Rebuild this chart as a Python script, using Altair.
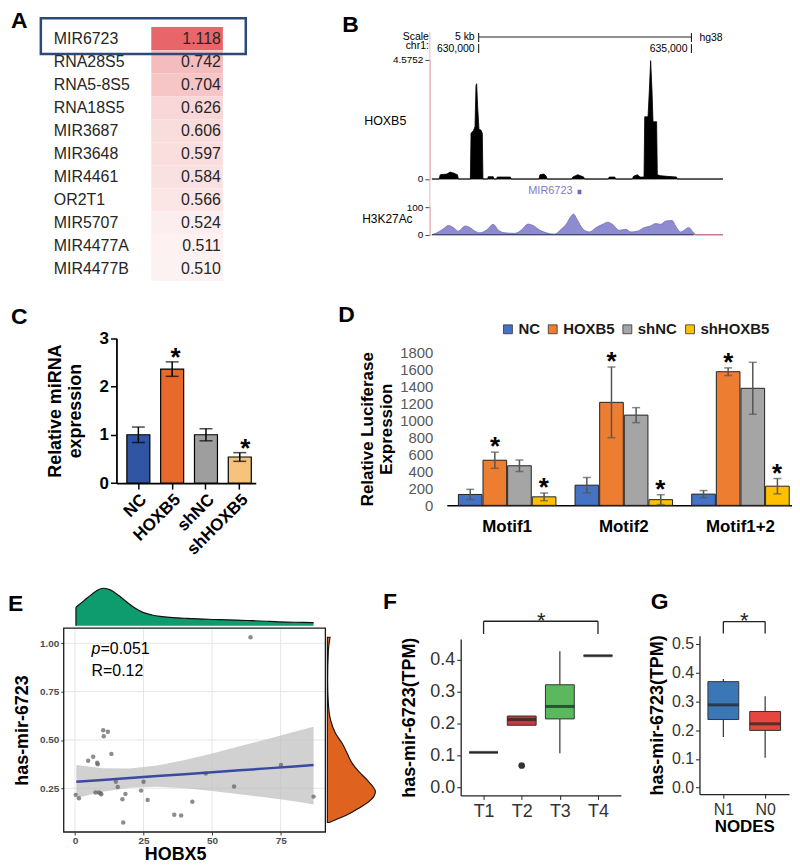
import altair as alt
import pandas as pd

W, H = 784, 848
FONT = "Liberation Sans"


def px(v):
    return v - 8


def py(v):
    return v - 8


# ---------------- data ----------------
# Panel A
a_names = ["MIR6723", "RNA28S5", "RNA5-8S5", "RNA18S5", "MIR3687", "MIR3648",
           "MIR4461", "OR2T1", "MIR5707", "MIR4477A", "MIR4477B"]
a_values = [1.118, 0.742, 0.704, 0.626, 0.606, 0.597, 0.584, 0.566, 0.524, 0.511, 0.510]

# Panel B (genome browser tracks)
b_hoxb5_pos = [628902, 629073, 629097, 629252, 629330, 629408, 629502, 629525, 629805, 629821,
               629875, 629914, 629938, 629953, 629977, 630008, 630054, 630086, 630101, 630210,
               630226, 630343, 630358, 630421, 630436, 630748, 630763, 631417, 631441, 631534,
               631589, 631604, 632188, 632212, 632329, 632469, 632484, 633045, 633068, 633201,
               633216, 633614, 633637, 633730, 633793, 633886, 633902, 633980, 634011, 634042,
               634073, 634097, 634182, 634198, 634276, 634431, 634649, 634665, 635740]
b_hoxb5_val = [0, 0, 0.165, 0.19, 0.267, 0.229, 0.165, 0, 0, 1.754,
               1.856, 2.008, 3.597, 3.66, 2.77, 1.906, 1.88, 1.754, 0, 0,
               0.089, 0.089, 0, 0, 0.076, 0.076, 0, 0, 0.165, 0.19,
               0.102, 0, 0, 0.076, 0.165, 0.076, 0, 0, 0.076, 0.076,
               0, 0, 0.102, 0.165, 0.076, 0.076, 2.39, 2.39, 3.406, 4.55,
               3.406, 2.2, 2.2, 0.165, 0.127, 0.102, 0.076, 0, 0]
b_h3k_pos = [628902, 629019, 629175, 629291, 629408, 629525, 629681, 629798, 629914, 630031,
             630187, 630343, 630459, 630615, 630849, 631005, 631160, 631277, 631433, 631589,
             631783, 631939, 632056, 632173, 632227, 632313, 632445, 632601, 632757, 632913,
             633030, 633146, 633302, 633458, 633575, 633730, 633886, 634042, 634159, 634276,
             634392, 634548, 634626, 634743, 634938, 635054, 635117, 635740]
b_h3k_val = [0, 7, 22, 34, 26, 13, 32, 26, 13, 7,
             17, 38, 17, 7, 5, 17, 39, 34, 17, 7,
             2, 20, 38, 68, 76, 56, 22, 10, 26, 38,
             46, 38, 16, 20, 10, 13, 26, 32, 41, 38,
             50, 52, 32, 10, 26, 7, 0, 0]
b_coords = [630000, 635000]
b_coord_labels = ["630,000", "635,000"]
b_scale_start, b_scale_end = 630000, 635000
b_gene, b_gene_start, b_gene_end = "MIR6723", 632325, 632413
b_xdomain = [628900, 635750]

# Panel C
c_groups = ["NC", "HOXB5", "shNC", "shHOXB5"]
c_mean = [1.0, 2.36, 1.0, 0.54]
c_err = [0.16, 0.15, 0.125, 0.09]
c_star = ["", "*", "", "*"]
c_colors = ["#2f55a3", "#e8692c", "#9e9e9e", "#f6c27c"]

# Panel D
d_motifs = ["Motif1", "Motif2", "Motif1+2"]
d_series = ["NC", "HOXB5", "shNC", "shHOXB5"]
d_nc = [128, 237, 132]
d_nc_err = [60, 90, 42]
d_hoxb5 = [530, 1210, 1570]
d_hoxb5_err = [95, 415, 45]
d_shnc = [465, 1060, 1375]
d_shnc_err = [68, 88, 305]
d_shhoxb5 = [100, 67, 225]
d_shhoxb5_err = [45, 58, 90]
d_star_series = ["HOXB5", "shHOXB5"]
d_colors = ["#4472c4", "#ed7d31", "#a5a5a5", "#ffc000"]

# Panel E
e_x = [0.24, 1.45, 4.8, 6.65, 7.5, 8.1, 8.3, 8.7, 9.3, 9.6, 10.3, 10.5, 12.0, 13.3, 14.9,
       15.6, 17.3, 17.6, 18.4, 24.1, 25.0, 26.5, 36.2, 38.7, 42.8, 47.7, 58.0, 64.0, 75.1, 87.0]
e_y = [0.216, 0.199, 0.392, 0.413, 0.228, 0.382, 0.374, 0.228, 0.224, 0.219, 0.55, 0.519, 0.542,
       0.428, 0.284, 0.257, 0.193, 0.073, 0.221, 0.238, 0.284, 0.19, 0.113, 0.109, 0.18, 0.327,
       0.259, 1.031, 0.37, 0.207]
e_fit_x = [0.5, 10, 20, 30, 40, 50, 60, 70, 80, 87]
e_fit = [0.2835, 0.293, 0.303, 0.313, 0.323, 0.333, 0.343, 0.353, 0.363, 0.370]
e_lo = [0.200, 0.232, 0.253, 0.258, 0.250, 0.236, 0.219, 0.202, 0.183, 0.166]
e_hi = [0.370, 0.354, 0.353, 0.368, 0.396, 0.430, 0.467, 0.504, 0.543, 0.568]
e_top_x = [0.36, 3.3, 6.3, 8.7, 10.5, 12.9, 16.0, 19.0, 22.0, 25.0, 28.1, 31.1, 34.7, 40.8,
           46.8, 52.9, 58.9, 65.0, 71.0, 77.1, 83.1, 87.0]
e_top_d = [55, 75, 95, 108, 112, 107, 90, 70, 52, 39, 32, 28, 25, 22, 20, 18, 17, 15, 13, 11, 10, 9]
e_right_y = [1.031, 0.962, 0.808, 0.688, 0.602, 0.533, 0.482, 0.43, 0.379, 0.336, 0.293, 0.259,
             0.233, 0.207, 0.181, 0.147, 0.113, 0.087, 0.073]
e_right_d = [2.7, 1.0, 0.3, 1.0, 3.3, 8.3, 15, 20, 25, 31.7, 40, 45.7, 48.3, 46.7, 41.7, 31.7,
             20, 8.3, 1.7]
e_gx = [0, 25, 50, 75]
e_gy = [0.25, 0.50, 0.75, 1.00]
e_xdom = [-4.1, 91.3]
e_ydom = [0.024, 1.079]

# Panel F
f_cats = ["T1", "T2", "T3", "T4"]
f_q1 = [0.109, 0.194, 0.214, 0.412]
f_med = [0.109, 0.212, 0.253, 0.412]
f_q3 = [0.109, 0.223, 0.321, 0.412]
f_lo = [0.109, 0.194, 0.106, 0.412]
f_hi = [0.109, 0.223, 0.426, 0.412]
f_out_cat = ["T2"]
f_out_val = [0.068]
f_colors = ["#3b6fb6", "#c7383f", "#5cb85c", "#8e6fc1"]
f_bracket = ["T1", "T4"]
f_bracket_y = [0.48, 0.52]

# Panel G
g_cats = ["N1", "N0"]
g_q1 = [0.237, 0.199]
g_med = [0.288, 0.222]
g_q3 = [0.369, 0.265]
g_lo = [0.176, 0.104]
g_hi = [0.378, 0.318]
g_colors = ["#3b77b7", "#e5463e"]
g_bracket = ["N1", "N0"]
g_bracket_y = [0.537, 0.578]

LAYERS = []


def add(c):
    LAYERS.append(c)


def label(txt, x, y, size=11, align="left", weight="normal", color="black", style="normal",
          baseline="middle"):
    add(alt.Chart(pd.DataFrame({"t": [txt]})).mark_text(
        align=align, baseline=baseline, font=FONT, fontSize=size, fontWeight=weight,
        color=color, fontStyle=style
    ).encode(x=alt.value(px(x)), y=alt.value(py(y)), text="t:N"))


# ---------------- Panel A ----------------
dfA = pd.DataFrame({"name": a_names, "value": a_values})
dfA["label"] = [f"{v:.3f}" for v in a_values]
dfA["cn"] = "name"
dfA["cv"] = "val"
xA = alt.Scale(domain=["name", "val"], range=[px(76), px(220)], paddingInner=0, paddingOuter=0)
yA = alt.Scale(domain=a_names, range=[py(20), py(275)], paddingInner=0, paddingOuter=0)
add(alt.Chart(dfA).mark_rect().encode(
    x=alt.X("cv:N", scale=xA, axis=None),
    y=alt.Y("name:N", scale=yA, axis=None),
    color=alt.Color("value:Q", scale=alt.Scale(domain=[0.5, 1.118], range=["#fdf4f4", "#e8666a"],
                                               interpolate="rgb"), legend=None)))
add(alt.Chart(dfA).mark_text(align="left", baseline="middle", font=FONT, fontSize=16,
                             color="#262626", dx=-62).encode(
    x=alt.X("cn:N", scale=xA, axis=None),
    y=alt.Y("name:N", scale=yA, axis=None), text="name:N"))
add(alt.Chart(dfA).mark_text(align="right", baseline="middle", font=FONT, fontSize=16,
                             color="#262626", dx=34).encode(
    x=alt.X("cv:N", scale=xA, axis=None),
    y=alt.Y("name:N", scale=yA, axis=None), text="label:N"))
add(alt.Chart(dfA.head(1)).mark_rect(filled=False, stroke="#2c4a78", strokeWidth=2.5).encode(
    x=alt.value(px(37)), x2=alt.value(px(243)), y=alt.value(py(11)), y2=alt.value(py(47))))

# ---------------- Panel B ----------------
xB = alt.Scale(domain=b_xdomain, range=[px(430), px(723)], nice=False, zero=False)
yB1 = alt.Scale(domain=[0, 4.5752], range=[py(172.7), py(53)], nice=False, zero=False)
yB2 = alt.Scale(domain=[0, 100], range=[py(228.7), py(201.3)], nice=False, zero=False)
b_axis_common = dict(orient="left", offset=-px(428), domainColor="#e9b7bd", domainWidth=1,
                     tickColor="#444", tickSize=5, labelFontSize=10, labelColor="black",
                     labelPadding=2, title=None, labelFont=FONT)
dfBh = pd.DataFrame({"pos": b_hoxb5_pos, "val": b_hoxb5_val})
add(alt.Chart(dfBh).mark_area(color="black", stroke="black", strokeWidth=0.8,
                              interpolate="linear").encode(
    x=alt.X("pos:Q", scale=xB, axis=None),
    y=alt.Y("val:Q", scale=yB1, axis=alt.Axis(values=[0, 4.5752], format=".5~g", **b_axis_common))))

dfBk = pd.DataFrame({"pos": b_h3k_pos, "val": b_h3k_val})
add(alt.Chart(dfBk).mark_area(color="#8a85cf", opacity=0.95, stroke="#6a66b3", strokeWidth=0.8,
                              interpolate="monotone").encode(
    x=alt.X("pos:Q", scale=xB, axis=None),
    y=alt.Y("val:Q", scale=yB2, axis=alt.Axis(values=[0, 100], format="d", **b_axis_common))))
dfBb = pd.DataFrame({"a": [b_h3k_pos[0], b_h3k_pos[-3]], "b": [b_h3k_pos[-3], b_h3k_pos[-1]],
                     "z": [0, 0], "c": ["base", "tail"]})
add(alt.Chart(dfBb).mark_rule(strokeWidth=1).encode(
    x=alt.X("a:Q", scale=xB, axis=None), x2="b:Q",
    y=alt.Y("z:Q", scale=yB2, axis=None),
    color=alt.Color("c:N", scale=alt.Scale(domain=["base", "tail"], range=["#2b3a55", "#e07a7a"]),
                    legend=None)))

dfBs = pd.DataFrame({"start": [b_scale_start], "end": [b_scale_end]})
dfBc = pd.DataFrame({"coord": b_coords, "clabel": b_coord_labels})
dfBg = pd.DataFrame({"gs": [b_gene_start], "ge": [b_gene_end], "gname": [b_gene]})
add(alt.Chart(dfBs).mark_rule(color="#222", strokeWidth=1.1).encode(
    x=alt.X("start:Q", scale=xB, axis=None), x2="end:Q", y=alt.value(py(30))))
add(alt.Chart(dfBs).mark_rule(color="#222", strokeWidth=1.1).encode(
    x=alt.X("start:Q", scale=xB, axis=None), y=alt.value(py(26)), y2=alt.value(py(35))))
add(alt.Chart(dfBs).mark_rule(color="#222", strokeWidth=1.1).encode(
    x=alt.X("end:Q", scale=xB, axis=None), y=alt.value(py(26)), y2=alt.value(py(35))))
add(alt.Chart(dfBs).mark_text(align="right", baseline="middle", dx=-4, font=FONT, fontSize=10.5).encode(
    x=alt.X("start:Q", scale=xB, axis=None), y=alt.value(py(30)), text=alt.value("5 kb")))
add(alt.Chart(dfBs).mark_text(align="left", baseline="middle", dx=8, font=FONT, fontSize=10.5).encode(
    x=alt.X("end:Q", scale=xB, axis=None), y=alt.value(py(31)), text=alt.value("hg38")))
add(alt.Chart(dfBc).mark_rule(color="#222", strokeWidth=1.1).encode(
    x=alt.X("coord:Q", scale=xB, axis=None), y=alt.value(py(37)), y2=alt.value(py(46))))
add(alt.Chart(dfBc).mark_text(align="right", baseline="middle", dx=-4, font=FONT, fontSize=10.5).encode(
    x=alt.X("coord:Q", scale=xB, axis=None), y=alt.value(py(42)), text="clabel:N"))
add(alt.Chart(dfBg).mark_text(align="right", baseline="middle", dx=-5, font=FONT, fontSize=11,
                              color="#7d7bc2").encode(
    x=alt.X("gs:Q", scale=xB, axis=None), y=alt.value(py(185)), text="gname:N"))
add(alt.Chart(dfBg).mark_rect(color="#6c69b4").encode(
    x=alt.X("gs:Q", scale=xB, axis=None), x2="ge:Q", y=alt.value(py(183.5)), y2=alt.value(py(188))))
add(alt.Chart(dfBg).mark_rule(color="#e9b7bd", strokeWidth=1).encode(
    x=alt.value(px(428)), y=alt.value(py(25)), y2=alt.value(py(230))))
label("Scale", 427, 30, size=10.5, align="right")
label("chr1:", 427, 39, size=10.5, align="right")
label("HOXB5", 362, 114, size=12.5)
label("H3K27Ac", 360, 213, size=12)

# ---------------- Panel C ----------------
dfC = pd.DataFrame({"group": c_groups, "mean": c_mean, "err": c_err, "star": c_star})
dfC["lo"] = dfC["mean"] - dfC["err"]
dfC["hi"] = dfC["mean"] + dfC["err"]
xC = alt.Scale(domain=c_groups, range=[px(113), px(253)], paddingInner=0.32, paddingOuter=0.22, align=0.7)
yC = alt.Scale(domain=[0, 3], range=[py(478.3), py(332.7)], nice=False)
add(alt.Chart(dfC).mark_bar(stroke="black", strokeWidth=1.2).encode(
    x=alt.X("group:N", scale=xC, axis=alt.Axis(
        orient="bottom", offset=py(478.3) - H, labelAngle=-45, labelAlign="right", labelBaseline="top",
        labelFontSize=17, labelFontWeight="bold",
        labelColor="black", tickSize=6, tickWidth=1.5, tickColor="black", domainColor="black",
        domainWidth=1.8, labelPadding=2, title=None)),
    y=alt.Y("mean:Q", scale=yC, axis=alt.Axis(
        orient="left", offset=-px(113), values=[0, 1, 2, 3], labelFontSize=17, labelFontWeight="bold",
        labelColor="black", tickSize=6, tickWidth=1.5, tickColor="black", domainColor="black",
        domainWidth=1.8, title=["Relative miRNA", "expression"], titleFontSize=18,
        titleFontWeight="bold", titleColor="black", titlePadding=15)),
    color=alt.Color("group:N", scale=alt.Scale(domain=c_groups, range=c_colors), legend=None)))
add(alt.Chart(dfC).mark_rule(color="black", strokeWidth=1.5).encode(
    x=alt.X("group:N", scale=xC, axis=None), y=alt.Y("lo:Q", scale=yC, axis=None), y2="hi:Q"))
add(alt.Chart(dfC).mark_tick(color="black", size=13, thickness=1.5).encode(
    x=alt.X("group:N", scale=xC, axis=None), y=alt.Y("lo:Q", scale=yC, axis=None)))
add(alt.Chart(dfC).mark_tick(color="black", size=13, thickness=1.5).encode(
    x=alt.X("group:N", scale=xC, axis=None), y=alt.Y("hi:Q", scale=yC, axis=None)))
add(alt.Chart(dfC).mark_text(font=FONT, fontSize=26, fontWeight="bold", baseline="alphabetic", dy=4).encode(
    x=alt.X("group:N", scale=xC, axis=None), y=alt.Y("hi:Q", scale=yC, axis=None), text="star:N"))

# ---------------- Panel D ----------------
d_vals = {"NC": d_nc, "HOXB5": d_hoxb5, "shNC": d_shnc, "shHOXB5": d_shhoxb5}
d_errs = {"NC": d_nc_err, "HOXB5": d_hoxb5_err, "shNC": d_shnc_err, "shHOXB5": d_shhoxb5_err}
rowsD = []
for s in d_series:
    for i, m in enumerate(d_motifs):
        rowsD.append({"motif": m, "series": s, "mean": d_vals[s][i], "err": d_errs[s][i],
                      "star": "*" if s in d_star_series else ""})
dfD = pd.DataFrame(rowsD)
dfD["lo"] = dfD["mean"] - dfD["err"]
dfD["hi"] = dfD["mean"] + dfD["err"]
xD = alt.Scale(domain=d_motifs, range=[px(445), px(797)], paddingInner=0.164, paddingOuter=0.083, align=0.6)
offD = alt.Scale(domain=d_series, paddingInner=0.04)
yD = alt.Scale(domain=[0, 1800], range=[py(500.7), py(346.7)], nice=False)
add(alt.Chart(dfD).mark_bar(stroke="#222", strokeWidth=1).encode(
    x=alt.X("motif:N", scale=xD, axis=alt.Axis(
        orient="bottom", offset=py(500.7) - H, ticks=False, domainColor="black", domainWidth=1.5,
        labelAngle=0, labelAlign="center", labelBaseline="top",
        labelFontSize=17, labelFontWeight="bold", labelColor="black", labelPadding=13, title=None)),
    xOffset=alt.XOffset("series:N", scale=offD),
    y=alt.Y("mean:Q", scale=yD, axis=alt.Axis(
        orient="left", offset=-px(445), values=list(range(0, 1801, 200)), format="d", domain=False,
        ticks=False, labelFontSize=15, labelColor="#595959", labelPadding=14,
        title=["Relative Luciferase", "Expression"], titleFontSize=17, titleFontWeight="bold",
        titleColor="black", titlePadding=4)),
    color=alt.Color("series:N", scale=alt.Scale(domain=d_series, range=d_colors), legend=alt.Legend(
        orient="none", legendX=px(499), legendY=py(316), direction="horizontal", title=None,
        labelFontSize=15, labelFontWeight="bold", labelColor="#1a1a1a", labelFont=FONT,
        symbolType="square", symbolSize=80, symbolStrokeColor="#333", symbolStrokeWidth=0.8,
        columnPadding=5, labelOffset=3))))
add(alt.Chart(dfD).mark_rule(color="#555", strokeWidth=1.5).encode(
    x=alt.X("motif:N", scale=xD, axis=None), xOffset=alt.XOffset("series:N", scale=offD),
    y=alt.Y("lo:Q", scale=yD, axis=None), y2="hi:Q"))
add(alt.Chart(dfD).mark_tick(color="#555", size=8, thickness=1.5).encode(
    x=alt.X("motif:N", scale=xD, axis=None), xOffset=alt.XOffset("series:N", scale=offD),
    y=alt.Y("lo:Q", scale=yD, axis=None)))
add(alt.Chart(dfD).mark_tick(color="#555", size=8, thickness=1.5).encode(
    x=alt.X("motif:N", scale=xD, axis=None), xOffset=alt.XOffset("series:N", scale=offD),
    y=alt.Y("hi:Q", scale=yD, axis=None)))
add(alt.Chart(dfD).mark_text(font=FONT, fontSize=26, fontWeight="bold", baseline="alphabetic", dy=3).encode(
    x=alt.X("motif:N", scale=xD, axis=None), xOffset=alt.XOffset("series:N", scale=offD),
    y=alt.Y("hi:Q", scale=yD, axis=None), text="star:N"))

# ---------------- Panel E ----------------
xE = alt.Scale(domain=e_xdom, range=[px(60), px(323)], nice=False, zero=False)
yE = alt.Scale(domain=e_ydom, range=[py(829), py(624)], nice=False, zero=False)
dfEp = pd.DataFrame({"x": e_x, "y": e_y})
dfEf = pd.DataFrame({"x": e_fit_x, "fit": e_fit, "lo": e_lo, "hi": e_hi})
dfEgx = pd.DataFrame({"g": e_gx, "y0": e_ydom[0], "y1": e_ydom[1]})
dfEgy = pd.DataFrame({"g": e_gy, "x0": e_xdom[0], "x1": e_xdom[1]})
dfEb = pd.DataFrame({"x0": [e_xdom[0]], "x1": [e_xdom[1]], "y0": [e_ydom[0]], "y1": [e_ydom[1]]})
add(alt.Chart(dfEgx).mark_rule(color="#e6e6e6", strokeWidth=1).encode(
    x=alt.X("g:Q", scale=xE, axis=None), y=alt.Y("y0:Q", scale=yE, axis=None), y2="y1:Q"))
add(alt.Chart(dfEgy).mark_rule(color="#e6e6e6", strokeWidth=1).encode(
    y=alt.Y("g:Q", scale=yE, axis=None), x=alt.X("x0:Q", scale=xE, axis=None), x2="x1:Q"))
add(alt.Chart(dfEf).mark_area(color="#bdbdbd", opacity=0.7).encode(
    x=alt.X("x:Q", scale=xE, axis=None), y=alt.Y("lo:Q", scale=yE, axis=None), y2="hi:Q"))
add(alt.Chart(dfEp).mark_circle(color="#666", opacity=0.75, size=20).encode(
    x=alt.X("x:Q", scale=xE, axis=alt.Axis(
        orient="bottom", offset=py(829) - H, values=e_gx, format="d", domain=False, tickColor="#333",
        tickSize=3, labelColor="#4d4d4d", labelFontSize=10, labelFontWeight="bold", labelPadding=1,
        labelAngle=0, title="HOBX5", titleFontSize=18, titleFontWeight="bold", titleColor="black",
        titleX=px(172), titleY=23, titleBaseline="middle", titleAnchor="middle")),
    y=alt.Y("y:Q", scale=yE, axis=alt.Axis(
        orient="left", offset=-px(60), values=e_gy, format=".2f", domain=False, tickColor="#333",
        tickSize=3, labelColor="#4d4d4d", labelFontSize=10, labelFontWeight="bold", labelPadding=2,
        title="has-mir-6723", titleFontSize=18, titleFontWeight="bold", titleColor="black",
        titlePadding=8))))
add(alt.Chart(dfEf).mark_line(color="#3a4aa3", strokeWidth=2.5).encode(
    x=alt.X("x:Q", scale=xE, axis=None), y=alt.Y("fit:Q", scale=yE, axis=None)))
add(alt.Chart(dfEb).mark_rect(filled=False, stroke="#1a1a1a", strokeWidth=1.3).encode(
    x=alt.X("x0:Q", scale=xE, axis=None), x2="x1:Q", y=alt.Y("y0:Q", scale=yE, axis=None), y2="y1:Q"))
label("p", 88, 645, size=16, style="italic")
label("=0.051", 97, 645, size=16)
label("R=0.12", 88, 667, size=16)

yTop = alt.Scale(domain=[0, max(e_top_d)], range=[py(621.7), py(584)], nice=False)
dfEt = pd.DataFrame({"x": e_top_x, "d": e_top_d})
dfEt["z"] = 0
add(alt.Chart(dfEt).mark_area(color="#0e9b6e", interpolate="monotone").encode(
    x=alt.X("x:Q", scale=xE, axis=None), y=alt.Y("d:Q", scale=yTop, axis=None)))
add(alt.Chart(dfEt).mark_line(color="#111", strokeWidth=1.2, interpolate="monotone").encode(
    x=alt.X("x:Q", scale=xE, axis=None), y=alt.Y("d:Q", scale=yTop, axis=None)))
add(alt.Chart(dfEt.head(1)).mark_rule(color="#111", strokeWidth=1.2).encode(
    x=alt.X("x:Q", scale=xE, axis=None), y=alt.Y("z:Q", scale=yTop, axis=None), y2="d:Q"))

xR = alt.Scale(domain=[0, max(e_right_d)], range=[px(325), px(373.3)], nice=False)
dfEr = pd.DataFrame({"y": e_right_y, "d": e_right_d})
add(alt.Chart(dfEr).mark_area(orient="horizontal", color="#df621f", stroke="#111", strokeWidth=1.1,
                              interpolate="monotone").encode(
    y=alt.Y("y:Q", scale=yE, axis=None), x=alt.X("d:Q", scale=xR, axis=None)))


# ---------------- Panels F and G (box plots from summary stats) ----------------
def box_panel(cats, q1, med, q3, lo, hi, colors, xr, yr, ydom, pad, box_w, ticks_vals, title_pad,
              bracket, bracket_y, star_dx, label_size, xlabel=None, out_cat=None, out_val=None):
    df = pd.DataFrame({"cat": cats, "q1": q1, "med": med, "q3": q3, "lo": lo, "hi": hi})
    xs = alt.Scale(type="point", domain=cats, range=[px(xr[0]), px(xr[1])], padding=pad)
    ys = alt.Scale(domain=ydom, range=[py(yr[0]), py(yr[1])], nice=False, zero=False)
    xaxis = alt.Axis(orient="bottom", offset=py(yr[0]) - H, domainColor="#222", domainWidth=1.3,
                     tickColor="#222", tickSize=4, labelFontSize=label_size, labelColor="#333",
                     labelAngle=0, labelAlign="center", labelBaseline="top",
                     labelPadding=3, titleFontSize=17, titleFontWeight="bold", titleColor="black",
                     titlePadding=2)
    if xlabel:
        xaxis.title = xlabel
    else:
        xaxis.title = None
    add(alt.Chart(df).mark_rule(color="#333", strokeWidth=1.2).encode(
        x=alt.X("cat:N", scale=xs, axis=xaxis),
        y=alt.Y("lo:Q", scale=ys, axis=alt.Axis(
            orient="left", offset=-px(xr[0]), values=ticks_vals, format=".1f", domainColor="#222",
            domainWidth=1.3, tickColor="#222", tickSize=4, labelFontSize=label_size, labelColor="#333",
            labelPadding=2, title="has-mir-6723(TPM)", titleFontSize=18, titleFontWeight="bold",
            titleColor="black", titlePadding=title_pad)),
        y2="hi:Q"))
    add(alt.Chart(df).mark_bar(size=box_w, stroke="#333", strokeWidth=1).encode(
        x=alt.X("cat:N", scale=xs, axis=None), y=alt.Y("q1:Q", scale=ys, axis=None), y2="q3:Q",
        color=alt.Color("cat:N", scale=alt.Scale(domain=cats, range=colors), legend=None)))
    add(alt.Chart(df).mark_tick(size=box_w, thickness=3, color="#222").encode(
        x=alt.X("cat:N", scale=xs, axis=None), y=alt.Y("med:Q", scale=ys, axis=None)))
    dfb = pd.DataFrame({"a": [bracket[0]], "b": [bracket[1]], "ylo": [bracket_y[0]],
                        "yhi": [bracket_y[1]], "s": ["*"]})
    dfv = pd.DataFrame({"cat": bracket, "ylo": [bracket_y[0]] * 2, "yhi": [bracket_y[1]] * 2})
    add(alt.Chart(dfb).mark_rule(color="#222", strokeWidth=1.3).encode(
        x=alt.X("a:N", scale=xs, axis=None), x2="b:N", y=alt.Y("yhi:Q", scale=ys, axis=None)))
    add(alt.Chart(dfv).mark_rule(color="#222", strokeWidth=1.3).encode(
        x=alt.X("cat:N", scale=xs, axis=None), y=alt.Y("ylo:Q", scale=ys, axis=None), y2="yhi:Q"))
    add(alt.Chart(dfb).mark_text(font=FONT, fontSize=22, baseline="alphabetic", dx=star_dx, dy=6.5,
                                 color="#222").encode(
        x=alt.X("a:N", scale=xs, axis=None), y=alt.Y("yhi:Q", scale=ys, axis=None), text="s:N"))
    if out_cat:
        dfo = pd.DataFrame({"cat": out_cat, "v": out_val})
        add(alt.Chart(dfo).mark_circle(color="#333", size=45, opacity=1).encode(
            x=alt.X("cat:N", scale=xs, axis=None), y=alt.Y("v:Q", scale=ys, axis=None)))


box_panel(f_cats, f_q1, f_med, f_q3, f_lo, f_hi, f_colors, (459, 620), (792.3, 635),
          [-0.026, 0.4645], 0.6, 29, [0, 0.1, 0.2, 0.3, 0.4], 11, f_bracket, f_bracket_y, 58,
          18, out_cat=f_out_cat, out_val=f_out_val)
box_panel(g_cats, g_q1, g_med, g_q3, g_lo, g_hi, g_colors, (699, 789), (791, 631.7),
          [-0.023, 0.529], 0.571, 31, [0, 0.1, 0.2, 0.3, 0.4, 0.5], 5, g_bracket, g_bracket_y, 21,
          16, xlabel="NODES")

# ---------------- panel letters ----------------
for t, lx, ly in [("A", 7, 21), ("B", 340, 25), ("C", 7, 318), ("D", 336, 316),
                  ("E", 4, 607), ("F", 381, 605), ("G", 650, 605)]:
    label(t, lx, ly, size=23, weight="bold", baseline="alphabetic")

chart = alt.layer(*LAYERS).resolve_scale(
    x="independent", y="independent", color="independent", xOffset="independent"
).properties(width=W, height=H, padding=0).configure_view(strokeWidth=0).configure_axis(
    grid=False, labelFont=FONT, titleFont=FONT
).configure_legend(labelFont=FONT)

chart.save("out.html", embed_options={"renderer": "svg", "actions": False})
